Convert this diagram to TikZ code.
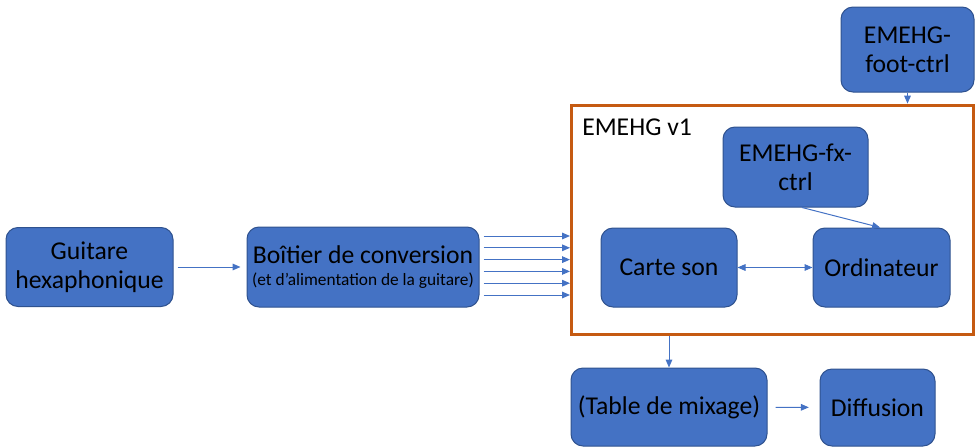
\documentclass[tikz,border=0pt]{standalone}
\usepackage{fontspec}
\setmainfont{Carlito}
\usetikzlibrary{arrows.meta}
\definecolor{bleu}{HTML}{4472C4}
\definecolor{bleufonce}{HTML}{2F528F}
\definecolor{orangecadre}{HTML}{C55A11}

\begin{document}
\begin{tikzpicture}[x=0.75pt,y=-0.75pt,
 bloc/.style={draw=bleufonce,line width=0.75pt,fill=bleu,rounded corners=9pt,align=center,inner sep=2pt,font=\fontsize{19.25}{21.5}\selectfont},
 fleche/.style={draw=bleu,line width=0.75pt,-{Triangle[length=6pt,width=5pt]}},
 fleches/.style={draw=bleu,line width=0.75pt,{Triangle[length=6pt,width=5pt]}-{Triangle[length=6pt,width=5pt]}}]
 \useasboundingbox (0,0) rectangle (976,447);
 \node[draw=orangecadre,line width=2.25pt,minimum width=301.5pt,minimum height=172pt] (emehg) at (772.5,219.75) {};
 \node[anchor=base west,inner sep=0pt,font=\fontsize{19.25}{21.5}\selectfont] (titre) at (582,135) {EMEHG v1};
 \node[bloc,minimum width=125.25pt,minimum height=59.25pt] (guitare) at (89.5,267) {Guitare\\hexaphonique};
 \node[bloc,minimum width=174pt,minimum height=60pt] (boitier) at (363,267) {Boîtier de conversion\\[-4.5pt]{\fontsize{13}{15}\selectfont (et d’alimentation de la guitare)}};
 \node[bloc,minimum width=108.75pt,minimum height=60pt] (fxctrl) at (795.5,167) {EMEHG-fx-\\ctrl};
 \node[bloc,minimum width=102pt,minimum height=59.25pt] (carte) at (669,267.5) {Carte son};
 \node[bloc,minimum width=102.75pt,minimum height=59.25pt] (ordi) at (881.5,267.5) {Ordinateur};
 \node[bloc,minimum width=99.75pt,minimum height=63.75pt] (foot) at (907.5,49.5) {EMEHG-\\foot-ctrl};
 \node[bloc,minimum width=147pt,minimum height=58.5pt] (table) at (669,407) {(Table de mixage)};
 \node[bloc,minimum width=86.25pt,minimum height=57.75pt] (diffusion) at (877.5,407.5) {Diffusion};
 \draw[fleche,shorten <=3pt,shorten >=4.5pt] (guitare) -- (boitier);
 \foreach \y in {236,247.8,259.6,271.4,283.2,295}
  \draw[fleche,shorten <=3pt] (boitier.east |- 0,\y) -- (emehg.west |- 0,\y);
 \draw[fleches] (carte) -- (ordi);
 \draw[fleche] ([xshift=4.9pt]fxctrl.south) -- ([xshift=-1pt]ordi.north);
 \draw[fleche] (foot.south) -- (foot.south |- emehg.north);
 \draw[fleche] (table.north |- emehg.south) -- (table.north);
 \draw[fleche,shorten <=6pt,shorten >=8pt] (table) -- (diffusion);
\end{tikzpicture}
\end{document}
